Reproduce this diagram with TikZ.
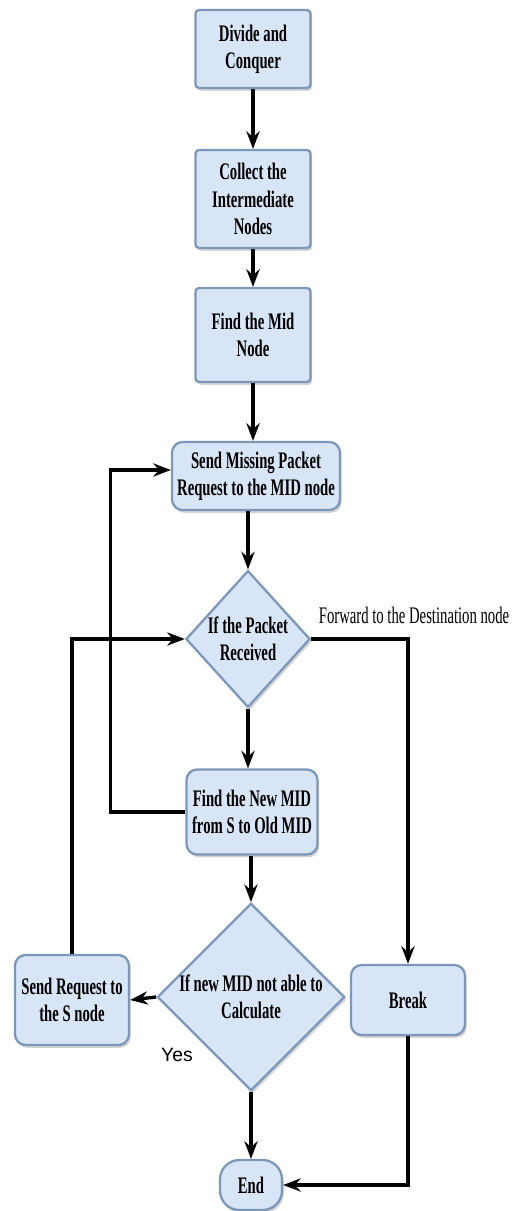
\documentclass[tikz,border=0pt]{standalone}
\usepackage{fontspec}
\setmainfont{Liberation Serif}
\newfontfamily\cond{Liberation Serif}[FakeStretch=0.62]
\usetikzlibrary{shapes.geometric,shadows,arrows.meta,calc}
\definecolor{boxfill}{HTML}{D7E5F6}
\definecolor{boxline}{HTML}{7D97BA}
\tikzset{
  base/.style={draw=boxline, line width=1.3pt, fill=boxfill, align=center,
    font=\cond\bfseries\fontsize{13.5}{15.5}\selectfont, inner sep=2pt,
    drop shadow={opacity=0.35, shadow xshift=1pt, shadow yshift=-1.6pt}},
  sqbox/.style={base, rectangle, rounded corners=2pt, minimum width=2.3cm},
  rbox/.style={base, rectangle, rounded corners=6pt},
  dec/.style={base, diamond, inner sep=0pt},
  arr/.style={-{Stealth[length=10pt,width=7.5pt]}, line width=1.9pt, black},
}
\begin{document}
\begin{tikzpicture}[x=0.02cm,y=-0.02cm]
\useasboundingbox (0,0) rectangle (516,1211);
\node[sqbox, minimum height=1.56cm] (n1) at (253,49) {Divide and\\Conquer};
\node[sqbox, minimum height=1.96cm] (n2) at (253,199) {Collect the\\Intermediate\\Nodes};
\node[sqbox, minimum height=1.88cm] (n3) at (253,335) {Find the Mid\\Node};
\node[rbox, minimum width=3.36cm, minimum height=1.36cm] (n4) at (256,476) {Send Missing Packet\\Request to the MID node};
\node[dec, minimum width=2.28cm, minimum height=2.74cm] (d1) at (248,639) {If the Packet\\Received};
\node[rbox, minimum width=2.62cm, minimum height=1.7cm] (n5) at (252,812) {Find the New MID\\from S to Old MID};
\node[dec, minimum width=3.46cm, minimum height=3.58cm] (d2) at (251,997) {If new MID not able to\\Calculate};
\node[rbox, minimum width=2.28cm, minimum height=1.8cm] (sr) at (72,1000) {Send Request to\\the S node};
\node[rbox, minimum width=2.28cm, minimum height=1.4cm] (brk) at (408,1000) {Break};
\node[base, rectangle, rounded corners=11pt, minimum width=1.24cm, minimum height=1.0cm] (end) at (251,1185) {End};
\node[font=\cond\fontsize{13.5}{15}\selectfont, anchor=south] (fw) at (414,630) {Forward to the Destination node};
\node[font=\fontspec{Liberation Sans}\fontsize{11}{13}\selectfont] (yes) at (177,1055) {Yes};

\draw[arr] (n1) -- (n2);
\draw[arr] (n2) -- (n3);
\draw[arr] (n3) -- (n3 |- n4.north);
\draw[arr] (n4.south -| d1.north) -- (d1.north);
\draw[arr] (d1.south) -- (d1.south |- n5.north);
\draw[arr] (n5.south -| d2.north) -- (d2.north);
\draw[arr] (d2.west) -- (sr.east);
\draw[arr] (d2.south) -- (d2.south |- end.north);
\draw[arr] (n5.west) -- ++(-75,0) |- ($(n4.west)+(0,-6)$);
\draw[arr] (sr.north) |- (d1.west);
\draw[arr] (d1.east) -| (brk.north);
\draw[arr] (brk.south) |- (end.east);
\end{tikzpicture}
\end{document}
